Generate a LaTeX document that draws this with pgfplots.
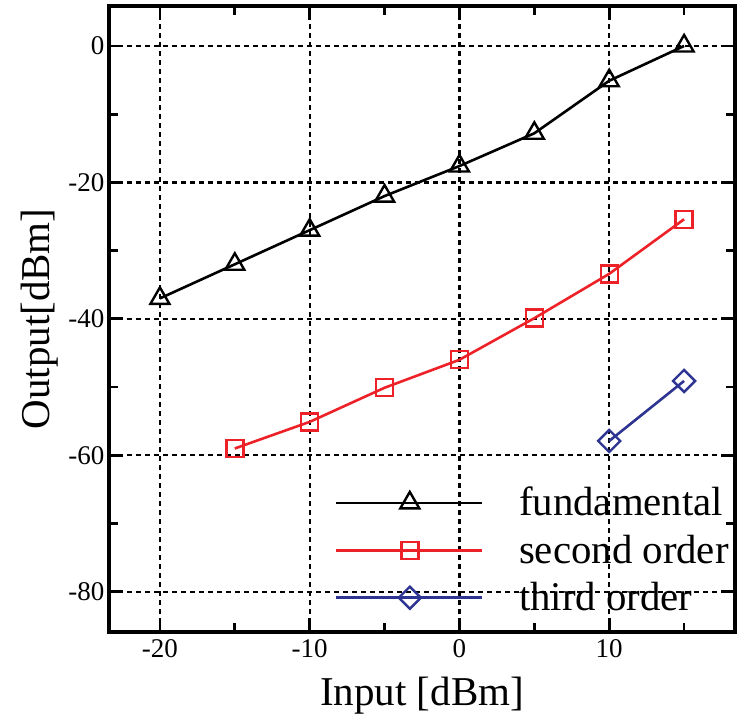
\documentclass[border=0pt]{standalone}
\usepackage{fontspec}
\setmainfont{Liberation Serif}
\usepackage{pgfplots}
\pgfplotsset{compat=1.18}
\definecolor{sred}{RGB}{237,34,40}
\definecolor{sblue}{RGB}{46,52,146}

\begin{document}
\begin{tikzpicture}
\begin{axis}[
  width=313pt,height=313pt,scale only axis,
  xmin=-23.4,xmax=18.4,ymin=-85.9,ymax=5.86,
  xtick={-20,-10,0,10},minor xtick={-15,-5,5,15},
  ytick={0,-20,-40,-60,-80},minor ytick={-10,-30,-50,-70},
  grid=major,
  major grid style={black,line width=1.1pt,dash pattern=on 2.5pt off 2pt},
  tick align=inside,major tick length=7pt,minor tick length=4.5pt,
  every tick/.style={black,line width=1.4pt},
  axis line style={line width=1.6pt},
  /pgf/number format/assume math mode=true,
  ticklabel style={font=\fontsize{13.5}{15}\selectfont},
  yticklabel style={xshift=1.2pt},
  xlabel={Input [dBm]},ylabel={Output[dBm]},
  xlabel style={font=\fontsize{20.5}{22}\selectfont,yshift=-3pt},
  ylabel style={font=\fontsize{20.5}{22}\selectfont,yshift=-1.7pt},
  legend style={draw=none,fill=none,at={(0.35,0.245)},anchor=north west,
    font=\fontsize{20.4}{22}\selectfont,row sep=4pt,
    /tikz/every odd column/.append style={column sep=16pt}},
  legend cell align=left,
  legend image code/.code={%
    \draw[mark repeat=2,mark phase=2] plot coordinates {(0pt,0pt) (37pt,0pt) (73pt,0pt)};},
]
\addplot[black,line width=1.3pt,mark=triangle,mark size=5.5pt,mark options={solid,line width=1.2pt}]
  coordinates {(-20,-37) (-15,-32) (-10,-27) (-5,-22) (0,-17.6) (5,-12.8) (10,-5.1) (15,0)};
\addlegendentry{fundamental}
\addplot[sred,line width=1.3pt,mark=square,mark size=4.25pt,mark options={solid,line width=1.2pt}]
  coordinates {(-15,-59) (-10,-55.1) (-5,-50.1) (0,-46) (5,-39.9) (10,-33.4) (15,-25.4)};
\addlegendentry{second order}
\addplot[sblue,line width=1.3pt,mark=square,mark size=3.9pt,mark options={solid,line width=1.2pt,rotate=45}]
  coordinates {(10,-57.9) (15,-49.1)};
\addlegendentry{third order}
\end{axis}
\pgfresetboundingbox
\path ([xshift=-54.5pt,yshift=-42.5pt]current axis.south west) rectangle ([xshift=1.5pt,yshift=3pt]current axis.north east);
\end{tikzpicture}
\end{document}
